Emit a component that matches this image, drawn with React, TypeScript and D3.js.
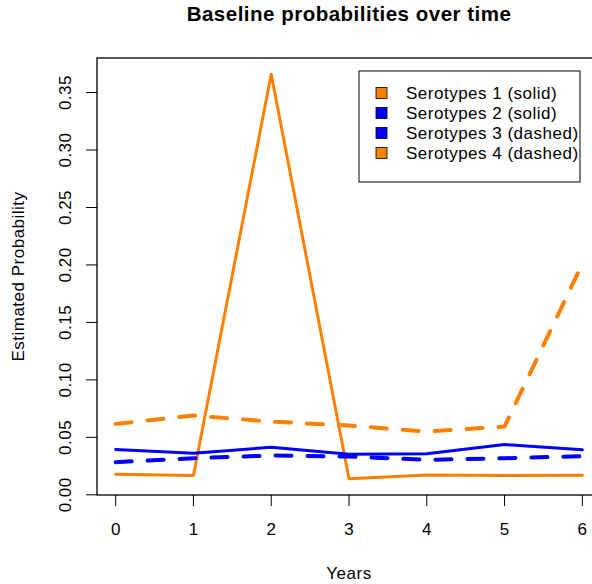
import * as d3 from "d3";
import React from "react";

const years = [0, 1, 2, 3, 4, 5, 6];
const sero1 = [0.0179, 0.0168, 0.366, 0.0139, 0.0172, 0.0168, 0.017];
const sero2 = [0.0394, 0.0362, 0.0414, 0.0353, 0.0358, 0.0437, 0.0391];
const sero3 = [0.0284, 0.0318, 0.0342, 0.0333, 0.0304, 0.0318, 0.0336];
const sero4 = [0.0617, 0.069, 0.0637, 0.0603, 0.055, 0.0594, 0.201];
const legendLabels = [
  "Serotypes 1 (solid)",
  "Serotypes 2 (solid)",
  "Serotypes 3 (dashed)",
  "Serotypes 4 (dashed)",
];
const xTicks = [0, 1, 2, 3, 4, 5, 6];
const yTicks = [0, 0.05, 0.1, 0.15, 0.2, 0.25, 0.3, 0.35];

const ORANGE = "#FF7F00";
const BLUE = "#0000FF";
const FONT = "'Liberation Sans', Arial, Helvetica, sans-serif";

export default function App() {
  const width = 592,
    height = 584;
  const plot = { left: 97, right: 601, top: 58, bottom: 495 };

  // R style 4% padding on both axes
  const xr = d3.extent(years) as [number, number];
  const xpad = (xr[1] - xr[0]) * 0.04;
  const x = d3
    .scaleLinear()
    .domain([xr[0] - xpad, xr[1] + xpad])
    .range([plot.left, plot.right]);

  const all = sero1.concat(sero2, sero3, sero4);
  const yr = d3.extent(all) as [number, number];
  const ypad = (yr[1] - yr[0]) * 0.04;
  const y = d3
    .scaleLinear()
    .domain([yr[0] - ypad, yr[1] + ypad])
    .range([plot.bottom, plot.top]);

  const line = d3
    .line<number>()
    .x((d, i) => x(years[i]))
    .y((d) => y(d));

  const series = [
    { values: sero1, color: ORANGE, dash: null, w: 3 },
    { values: sero2, color: BLUE, dash: null, w: 3 },
    { values: sero3, color: BLUE, dash: "16,16", w: 4 },
    { values: sero4, color: ORANGE, dash: "16,16", w: 4 },
  ];
  const legendColors = [ORANGE, BLUE, BLUE, ORANGE];
  const ls = 0.5;

  return (
    <svg
      width={width}
      height={height}
      style={{ position: "absolute", left: 0, top: 0, background: "#fff" }}
      fontFamily={FONT}
    >
      <text
        x={(plot.left + plot.right) / 2}
        y={21}
        textAnchor="middle"
        fontWeight="bold"
        fontSize={20.5}
        letterSpacing={ls}
      >
        Baseline probabilities over time
      </text>

      {series.map((s, i) => (
        <path
          key={i}
          d={line(s.values) || ""}
          fill="none"
          stroke={s.color}
          strokeWidth={s.w}
          strokeDasharray={s.dash || undefined}
          strokeLinecap="round"
          strokeLinejoin="round"
        />
      ))}

      <rect
        x={plot.left}
        y={plot.top}
        width={plot.right - plot.left}
        height={plot.bottom - plot.top}
        fill="none"
        stroke="#000"
        strokeWidth={1.3}
      />

      {xTicks.map((t) => (
        <g key={t}>
          <line x1={x(t)} x2={x(t)} y1={plot.bottom} y2={plot.bottom + 11} stroke="#000" />
          <text x={x(t)} y={535} textAnchor="middle" fontSize={17}>
            {t}
          </text>
        </g>
      ))}

      {yTicks.map((t) => (
        <g key={t}>
          <line x1={plot.left - 11} x2={plot.left} y1={y(t)} y2={y(t)} stroke="#000" />
          <text
            transform={`translate(71,${y(t)}) rotate(-90)`}
            textAnchor="middle"
            fontSize={17}
            letterSpacing={ls}
          >
            {d3.format(".2f")(t)}
          </text>
        </g>
      ))}

      <text x={(plot.left + plot.right) / 2} y={579} textAnchor="middle" fontSize={17} letterSpacing={ls}>
        Years
      </text>
      <text
        transform={`translate(24,${(plot.top + plot.bottom) / 2}) rotate(-90)`}
        textAnchor="middle"
        fontSize={17}
        letterSpacing={ls}
      >
        Estimated Probability
      </text>

      <g>
        <rect x={359} y={71} width={221} height={111} fill="#fff" stroke="#000" strokeWidth={1} />
        {legendLabels.map((lab, i) => (
          <g key={lab} transform={`translate(0,${93 + i * 20})`}>
            <rect x={376} y={-5.5} width={11} height={11} fill={legendColors[i]} stroke="#000" strokeWidth={0.8} />
            <text x={406} y={6} fontSize={17} letterSpacing={ls}>
              {lab}
            </text>
          </g>
        ))}
      </g>
    </svg>
  );
}
